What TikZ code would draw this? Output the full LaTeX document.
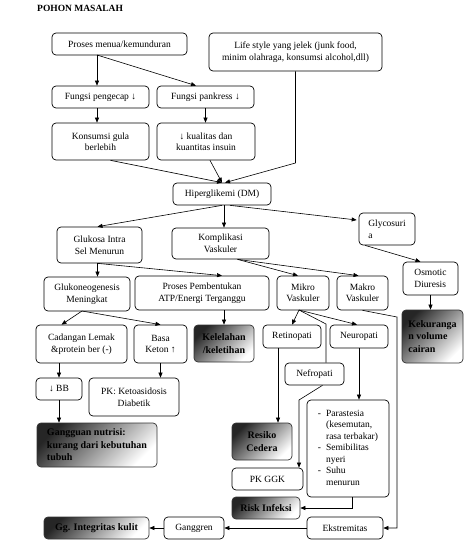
\documentclass[tikz,border=0pt]{standalone}
\usepackage{fontspec}
\setmainfont{Liberation Serif}
\usetikzlibrary{arrows.meta,calc}
\tikzset{
  box/.style={draw=black, line width=0.7pt, rounded corners=4pt, inner sep=0pt,
    font=\fontsize{9.5}{11.5}\selectfont, align=center, text=black, fill=white},
  sbox/.style={box, shading=axis, top color=black!85, bottom color=white, shading angle=45,
    draw=black!80, font=\bfseries\fontsize{10}{12.5}\selectfont},
  arr/.style={-{Triangle[length=5pt,width=4pt]}, line width=0.6pt},
  ln/.style={line width=0.6pt}
}
\begin{document}
\begin{tikzpicture}[x=1pt,y=-1pt]
\useasboundingbox[fill=white] (0,0) rectangle (465,554);
\node[font=\bfseries\fontsize{9.5}{10}\selectfont, anchor=west, inner sep=0pt] (title) at (37,8) {POHON MASALAH};
% row 1
\node[box, minimum width=135, minimum height=22] (pm) at (119.5,44) {Proses menua/kemunduran};
\node[box, minimum width=173, minimum height=38] (ls) at (295.5,52) {Life style yang jelek (junk food,\\minim olahraga, konsumsi alcohol,dll)};
% row 2
\node[box, minimum width=97, minimum height=22] (fp) at (100.5,97) {Fungsi pengecap ↓};
\node[box, minimum width=97, minimum height=22] (fk) at (205.5,97) {Fungsi pankress ↓};
% row 3
\node[box, minimum width=97, minimum height=37] (kg) at (100.5,141.5) {Konsumsi gula\\berlebih};
\node[box, minimum width=98, minimum height=37] (kq) at (206,141.5) {↓ kualitas dan\\kuantitas insuin};
% hiper
\node[box, minimum width=98, minimum height=22] (hg) at (222,194) {Hiperglikemi (DM)};
\node[box, minimum width=56, minimum height=32, align=left] (gs) at (387,229) {Glycosuri\\a};
\node[box, minimum width=97, minimum height=31] (kv) at (220.5,243.5) {Komplikasi\\Vaskuler};
\node[box, minimum width=85, minimum height=36] (gi) at (99.5,245) {Glukosa Intra\\Sel Menurun};
\node[box, minimum width=55, minimum height=33, align=left] (od) at (430.5,278.5) {Osmotic\\Diuresis};
\node[sbox, minimum width=61, minimum height=53, align=left] (kc) at (432.5,336.5) {Kekuranga\\n volume\\cairan};
% row
\node[box, minimum width=86, minimum height=34] (gn) at (87,294) {Glukoneogenesis\\Meningkat};
\node[box, minimum width=134, minimum height=34] (ppa) at (202,293) {Proses Pembentukan\\ATP/Energi Terganggu};
\node[box, minimum width=52, minimum height=34] (mik) at (303,293) {Mikro\\Vaskuler};
\node[box, minimum width=51, minimum height=34] (mak) at (362.5,293) {Makro\\Vaskuler};
\node[sbox, minimum width=60, minimum height=37] (kel) at (224,343.5) {Kelelahan\\/keletihan};
\node[box, minimum width=91, minimum height=38] (cl) at (81.5,344) {Cadangan Lemak\\\&protein ber (-)};
\node[box, minimum width=53, minimum height=38] (bk) at (160.5,344) {Basa\\Keton ↑};
\node[box, minimum width=46, minimum height=22] (bb) at (59,389) {↓ BB};
\node[box, minimum width=90, minimum height=38] (pkk) at (134,397) {PK: Ketoasidosis\\Diabetik};
\node[sbox, minimum width=120, minimum height=44, align=left] (gnu) at (97,445) {Gangguan nutrisi:\\kurang dari kebutuhan\\tubuh};
\node[box, minimum width=58, minimum height=23] (ret) at (292,336.5) {Retinopati};
\node[box, minimum width=58, minimum height=23] (neu) at (359,336.5) {Neuropati};
\node[box, minimum width=59, minimum height=22] (nef) at (314.5,374) {Nefropati};
\node[sbox, minimum width=60, minimum height=37] (rc) at (262,441.5) {Resiko\\Cedera};
\node[box, minimum width=71, minimum height=22] (ggk) at (267.5,479) {PK GGK};
\node[box, minimum width=82, minimum height=97, align=left] (par) at (348,448.5) {%
\begin{tabular}{@{}l@{\hspace{5pt}}l@{}}
-&Parastesia\\
&(kesemutan,\\
&rasa terbakar)\\
-&Semibilitas\\
&nyeri\\
-&Suhu\\
&menurun
\end{tabular}};
\node[sbox, minimum width=68, minimum height=22] (ri) at (266,508) {Risk Infeksi};
\node[box, minimum width=76, minimum height=22] (ek) at (345,528) {Ekstremitas};
\node[box, minimum width=60, minimum height=22] (gg) at (194,528) {Ganggren};
\node[sbox, minimum width=105, minimum height=22] (gik) at (96.5,528) {Gg. Integritas kulit};
% helper coordinates
\coordinate (pms) at (97,55);
\coordinate (lsb) at (295.5,163);
\coordinate (mks) at (299,310);
\coordinate (nfk) at (326,324);
\coordinate (nfb) at (299,400);
\coordinate (mk1) at (397,317);
\coordinate (gns) at (82,311);
% connectors
\draw[arr] (pms) -- (pms |- fp.north);
\draw[arr] (pms) -- ([xshift=-9.5pt]fk.north);
\draw[arr] (pms |- fp.south) -- (pms |- kg.north);
\draw[arr] (fk.south) -- (fk.south |- kq.north);
\draw[arr] ([xshift=10pt]kg.south) -- (hg.north);
\draw[arr] ([xshift=4pt]kq.south) -- (hg.north);
\draw[arr] (ls.south) -- (lsb) -- ([xshift=3pt]hg.north);
\draw[arr] (hg.south) -- ([xshift=-2pt]gi.north);
\draw[arr] ([xshift=2pt]hg.south) -- ([xshift=2pt]hg.south |- kv.north);
\draw[arr] ([xshift=8pt]hg.south) -- ([xshift=-2pt,yshift=9pt]gs.west);
\draw[arr] ([xshift=-22pt]gs.south) -- ([xshift=-10pt]od.north);
\draw[arr] (od.south) -- (od.south |- kc.north);
\draw[arr] ([xshift=-2pt]gi.south) -- ([xshift=-2pt]gi.south |- gn.north);
\draw[arr] ([xshift=-2pt]gi.south) -- ([xshift=20pt]ppa.north);
\draw[arr] ([xshift=17pt]kv.south) -- ([xshift=-5pt]mik.north);
\draw[arr] ([xshift=17pt]kv.south) -- ([xshift=-4pt]mak.north);
\draw[arr] (kel.north |- ppa.south) -- (kel.north);
\draw[arr] (gns) -- ([xshift=-20pt]cl.north);
\draw[arr] (gns) -- (bk.north);
\draw[arr] (bb.north |- cl.south) -- (bb.north);
\draw[arr] (bk.south) -- (bk.south |- pkk.north);
\draw[arr] (bb.south) -- (bb.south |- gnu.north);
\draw[arr] (mks) -- (ret.north);
\draw[arr] (mks) -- ([xshift=-2pt]neu.north);
\draw[ln] (mks) -- (nfk) -- (nfk |- nef.north);
\draw[arr] ([xshift=-14pt]ret.south) -- ([xshift=-14pt]ret.south |- rc.north);
\draw[arr] ([xshift=8pt]nef.south) -- (nfb) -- (nfb |- ggk.north);
\draw[arr] (neu.south) -- (neu.south |- par.north);
\draw[arr] ([xshift=4pt]par.south) |- (ri.east);
\draw[arr] (mak.south) -- (mk1) |- (ek.east);
\draw[arr] (ek.west) -- (gg.east);
\draw[arr] (gg.west) -- (gik.east);
\end{tikzpicture}
\end{document}
